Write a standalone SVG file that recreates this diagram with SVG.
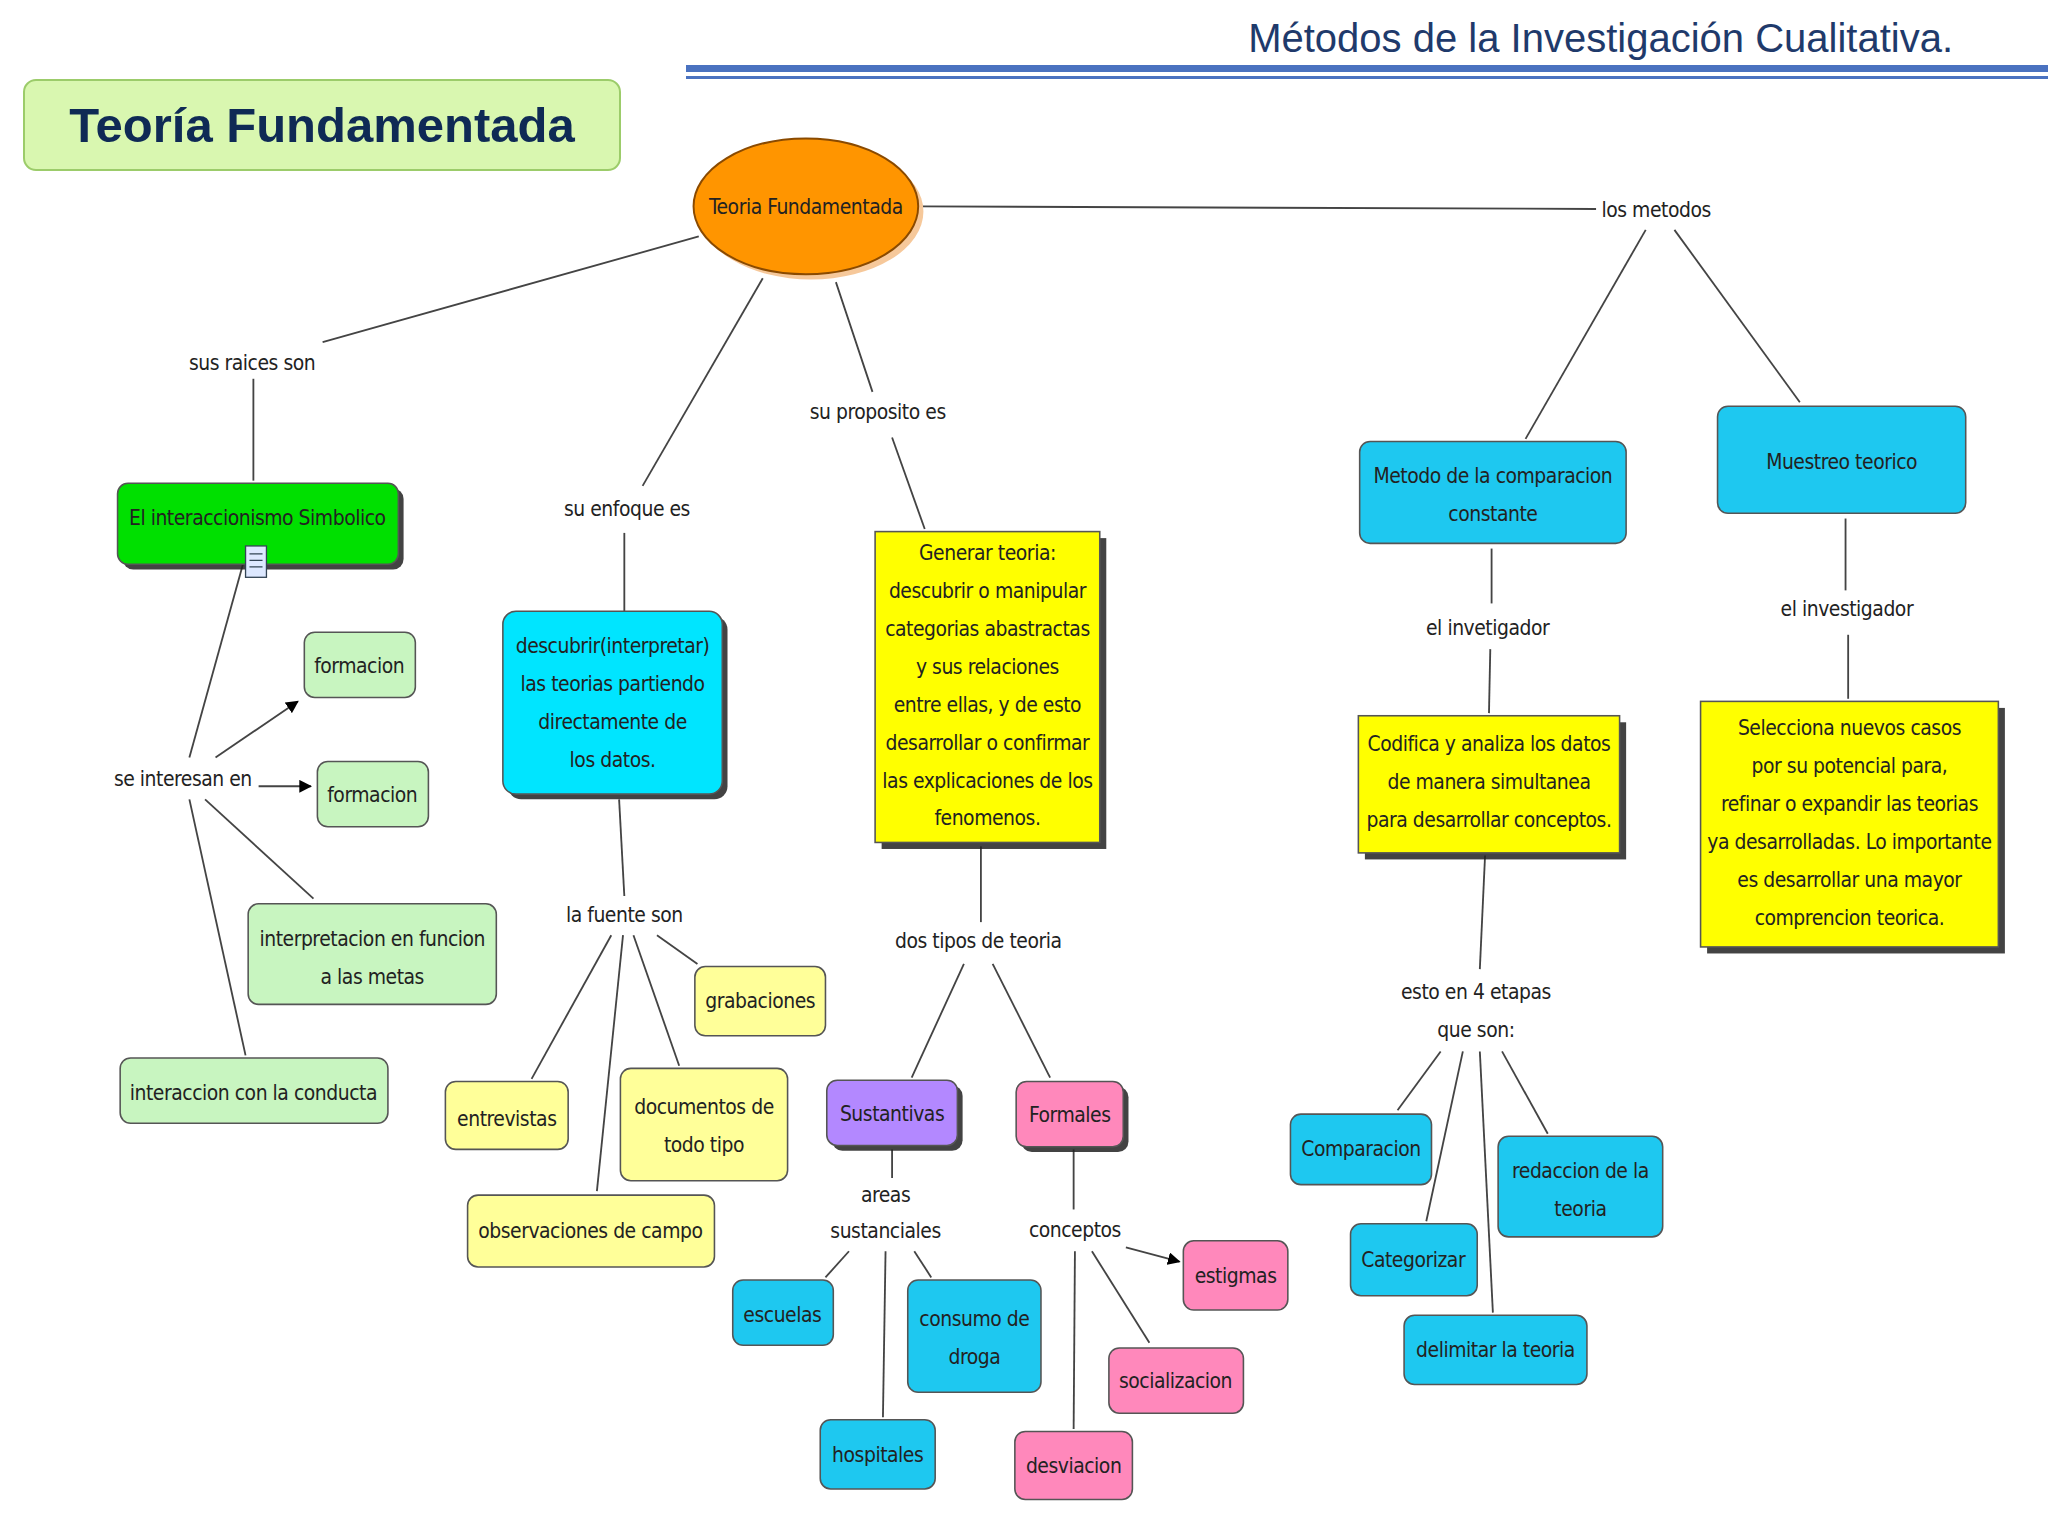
<svg xmlns="http://www.w3.org/2000/svg" width="2048" height="1536" viewBox="0 0 2048 1536">
<defs>
<marker id="ah" viewBox="0 0 10 10" refX="9" refY="5" markerWidth="7" markerHeight="7" orient="auto"><path d="M0,0L10,5L0,10z" fill="#000"/></marker>
<style>
.t{font-family:"DejaVu Sans Condensed","Liberation Sans",sans-serif;font-stretch:condensed;font-size:16px;letter-spacing:-0.35px;fill:#222;text-anchor:middle}
.sh{fill:#222;opacity:.85}
.n{stroke:#555;stroke-width:1.2}
.g{fill:#00e000}.lg{fill:#c8f5c0}.cy{fill:#00e5ff}.ly{fill:#ffff99}.y{fill:#ffff00}.p{fill:#b388ff}.pk{fill:#ff88bb}.b{fill:#1ec8f0}
.c line{stroke:#444;stroke-width:1.4}
</style>
</defs>
<rect width="2048" height="1536" fill="#fff"/>
<text x="1953" y="52" font-family="Liberation Sans,Arial,sans-serif" font-size="40" fill="#1f3a6b" text-anchor="end">Métodos de la Investigación Cualitativa.</text>
<rect x="686" y="65" width="1362" height="7" fill="#4a72c0"/>
<rect x="686" y="76" width="1362" height="3" fill="#4a72c0"/>
<g id="title"><rect x="24" y="80" width="596" height="90" rx="12" fill="#d9f7b0" stroke="#9ccc6a" stroke-width="2"/>
<text x="322" y="142" font-family="Liberation Sans,Arial,sans-serif" font-size="49" font-weight="bold" fill="#0f2a55" text-anchor="middle">Teoría Fundamentada</text></g>
<g transform="scale(1.30612)">
<g class="c">
<line x1="705" y1="158" x2="1222" y2="160"/><line x1="535" y1="181" x2="247" y2="262"/><line x1="194" y1="290" x2="194" y2="368"/>
<line x1="584" y1="213" x2="492" y2="372"/><line x1="478" y1="408" x2="478" y2="468"/><line x1="640" y1="216" x2="668" y2="300"/>
<line x1="683" y1="335" x2="708" y2="405"/><line x1="186" y1="432" x2="145" y2="580"/>
<line x1="165" y1="580" x2="228" y2="537" marker-end="url(#ah)"/><line x1="198" y1="602" x2="238" y2="602" marker-end="url(#ah)"/>
<line x1="157" y1="612" x2="240" y2="688"/><line x1="145" y1="612" x2="188" y2="808"/>
<line x1="474" y1="612" x2="478" y2="686"/><line x1="468" y1="716" x2="407" y2="826"/><line x1="477" y1="716" x2="457" y2="912"/>
<line x1="485" y1="716" x2="520" y2="816"/><line x1="503" y1="716" x2="534" y2="738"/>
<line x1="751" y1="648" x2="751" y2="706"/><line x1="738" y1="738" x2="698" y2="825"/><line x1="760" y1="738" x2="804" y2="825"/>
<line x1="683" y1="880" x2="683" y2="902"/><line x1="650" y1="958" x2="632" y2="978"/><line x1="700" y1="958" x2="713" y2="978"/>
<line x1="678" y1="958" x2="676" y2="1085"/><line x1="822" y1="880" x2="822" y2="926"/>
<line x1="862" y1="955" x2="903" y2="966" marker-end="url(#ah)"/><line x1="836" y1="958" x2="880" y2="1028"/><line x1="823" y1="958" x2="822" y2="1094"/>
<line x1="1260" y1="176" x2="1168" y2="336"/><line x1="1282" y1="176" x2="1378" y2="308"/><line x1="1142" y1="420" x2="1142" y2="462"/>
<line x1="1141" y1="497" x2="1140" y2="546"/><line x1="1413" y1="397" x2="1413" y2="452"/><line x1="1415" y1="486" x2="1415" y2="535"/>
<line x1="1137" y1="655" x2="1133" y2="742"/><line x1="1103" y1="805" x2="1070" y2="850"/><line x1="1120" y1="805" x2="1092" y2="935"/>
<line x1="1133" y1="805" x2="1143" y2="1005"/><line x1="1150" y1="805" x2="1185" y2="868"/>
</g>
<g id="root"><ellipse cx="621" cy="162" rx="86" ry="52" fill="#f6c89a"/><ellipse cx="617" cy="158" rx="86" ry="52" fill="#ff9500" stroke="#8a4a00" stroke-width="1.5"/><text class="t" x="617" y="164">Teoria Fundamentada</text></g>
<g id="labels">
<text class="t" x="193" y="283">sus raices son</text><text class="t" x="672" y="321">su proposito es</text><text class="t" x="480" y="395">su enfoque es</text>
<text class="t" x="140" y="602">se interesan en</text><text class="t" x="478" y="706">la fuente son</text><text class="t" x="749" y="726">dos tipos de teoria</text>
<text class="t" x="678" y="920">areas</text><text class="t" x="678" y="948">sustanciales</text><text class="t" x="823" y="947">conceptos</text>
<text class="t" x="1268" y="166">los metodos</text><text class="t" x="1139" y="486">el invetigador</text><text class="t" x="1414" y="472">el investigador</text>
<text class="t" x="1130" y="765">esto en 4 etapas</text><text class="t" x="1130" y="794">que son:</text>
</g>
<g id="n1"><rect class="sh" x="94" y="374" width="215" height="62" rx="8"/><rect class="n g" x="90" y="370" width="215" height="62" rx="8"/><text class="t" x="197" y="402">El interaccionismo Simbolico</text>
<rect x="188" y="418" width="16" height="24" fill="#dde8ff" stroke="#345" stroke-width="1"/><path d="M191,424h10M191,429h10M191,434h10" stroke="#345" stroke-width="1"/></g>
<g id="n2"><rect class="n lg" x="233" y="484" width="85" height="50" rx="8"/><text class="t" x="275" y="515">formacion</text></g>
<g id="n3"><rect class="n lg" x="243" y="583" width="85" height="50" rx="8"/><text class="t" x="285" y="614">formacion</text></g>
<g id="n4"><rect class="n lg" x="190" y="692" width="190" height="77" rx="8"/><text class="t" x="285" y="724">interpretacion en funcion</text><text class="t" x="285" y="753">a las metas</text></g>
<g id="n5"><rect class="n lg" x="92" y="810" width="205" height="50" rx="8"/><text class="t" x="194" y="842">interaccion con la conducta</text></g>
<g id="n6"><rect class="sh" x="389" y="472" width="168" height="140" rx="10"/><rect class="n cy" x="385" y="468" width="168" height="140" rx="10"/>
<text class="t" x="469" y="500">descubrir(interpretar)</text><text class="t" x="469" y="529">las teorias partiendo</text><text class="t" x="469" y="558">directamente de</text><text class="t" x="469" y="587">los datos.</text></g>
<g id="n7"><rect class="n ly" x="532" y="740" width="100" height="53" rx="8"/><text class="t" x="582" y="772">grabaciones</text></g>
<g id="n8"><rect class="n ly" x="341" y="828" width="94" height="52" rx="8"/><text class="t" x="388" y="862">entrevistas</text></g>
<g id="n9"><rect class="n ly" x="475" y="818" width="128" height="86" rx="8"/><text class="t" x="539" y="853">documentos de</text><text class="t" x="539" y="882">todo tipo</text></g>
<g id="n10"><rect class="n ly" x="358" y="915" width="189" height="55" rx="8"/><text class="t" x="452" y="948">observaciones de campo</text></g>
<g id="n11"><rect class="sh" x="675" y="412" width="172" height="238"/><rect class="n y" x="670" y="407" width="172" height="238"/>
<text class="t" x="756" y="429">Generar teoria:</text><text class="t" x="756" y="458">descubrir o manipular</text><text class="t" x="756" y="487">categorias abastractas</text><text class="t" x="756" y="516">y sus relaciones</text><text class="t" x="756" y="545">entre ellas, y de esto</text><text class="t" x="756" y="574">desarrollar o confirmar</text><text class="t" x="756" y="603">las explicaciones de los</text><text class="t" x="756" y="632">fenomenos.</text></g>
<g id="n12"><rect class="sh" x="637" y="831" width="100" height="50" rx="8"/><rect class="n p" x="633" y="827" width="100" height="50" rx="8"/><text class="t" x="683" y="858">Sustantivas</text></g>
<g id="n13"><rect class="sh" x="782" y="832" width="82" height="50" rx="8"/><rect class="n pk" x="778" y="828" width="82" height="50" rx="8"/><text class="t" x="819" y="859">Formales</text></g>
<g id="n14"><rect class="n b" x="561" y="980" width="77" height="50" rx="8"/><text class="t" x="599" y="1012">escuelas</text></g>
<g id="n15"><rect class="n b" x="695" y="980" width="102" height="86" rx="8"/><text class="t" x="746" y="1015">consumo de</text><text class="t" x="746" y="1044">droga</text></g>
<g id="n16"><rect class="n b" x="628" y="1087" width="88" height="53" rx="8"/><text class="t" x="672" y="1119">hospitales</text></g>
<g id="n17"><rect class="n pk" x="906" y="950" width="80" height="53" rx="8"/><text class="t" x="946" y="982">estigmas</text></g>
<g id="n18"><rect class="n pk" x="849" y="1032" width="103" height="50" rx="8"/><text class="t" x="900" y="1063">socializacion</text></g>
<g id="n19"><rect class="n pk" x="777" y="1096" width="90" height="52" rx="8"/><text class="t" x="822" y="1128">desviacion</text></g>
<g id="n20"><rect class="n b" x="1041" y="338" width="204" height="78" rx="8"/><text class="t" x="1143" y="370">Metodo de la comparacion</text><text class="t" x="1143" y="399">constante</text></g>
<g id="n21"><rect class="n b" x="1315" y="311" width="190" height="82" rx="8"/><text class="t" x="1410" y="359">Muestreo teorico</text></g>
<g id="n22"><rect class="sh" x="1045" y="553" width="200" height="105"/><rect class="n y" x="1040" y="548" width="200" height="105"/>
<text class="t" x="1140" y="575">Codifica y analiza los datos</text><text class="t" x="1140" y="604">de manera simultanea</text><text class="t" x="1140" y="633">para desarrollar conceptos.</text></g>
<g id="n23"><rect class="sh" x="1307" y="542" width="228" height="188"/><rect class="n y" x="1302" y="537" width="228" height="188"/>
<text class="t" x="1416" y="563">Selecciona nuevos casos</text><text class="t" x="1416" y="592">por su potencial para,</text><text class="t" x="1416" y="621">refinar o expandir las teorias</text><text class="t" x="1416" y="650">ya desarrolladas. Lo importante</text><text class="t" x="1416" y="679">es desarrollar una mayor</text><text class="t" x="1416" y="708">comprencion teorica.</text></g>
<g id="n24"><rect class="n b" x="988" y="853" width="108" height="54" rx="8"/><text class="t" x="1042" y="885">Comparacion</text></g>
<g id="n25"><rect class="n b" x="1147" y="870" width="126" height="77" rx="8"/><text class="t" x="1210" y="902">redaccion de la</text><text class="t" x="1210" y="931">teoria</text></g>
<g id="n26"><rect class="n b" x="1034" y="937" width="97" height="55" rx="8"/><text class="t" x="1082" y="970">Categorizar</text></g>
<g id="n27"><rect class="n b" x="1075" y="1007" width="140" height="53" rx="8"/><text class="t" x="1145" y="1039">delimitar la teoria</text></g>
</g>
</svg>
